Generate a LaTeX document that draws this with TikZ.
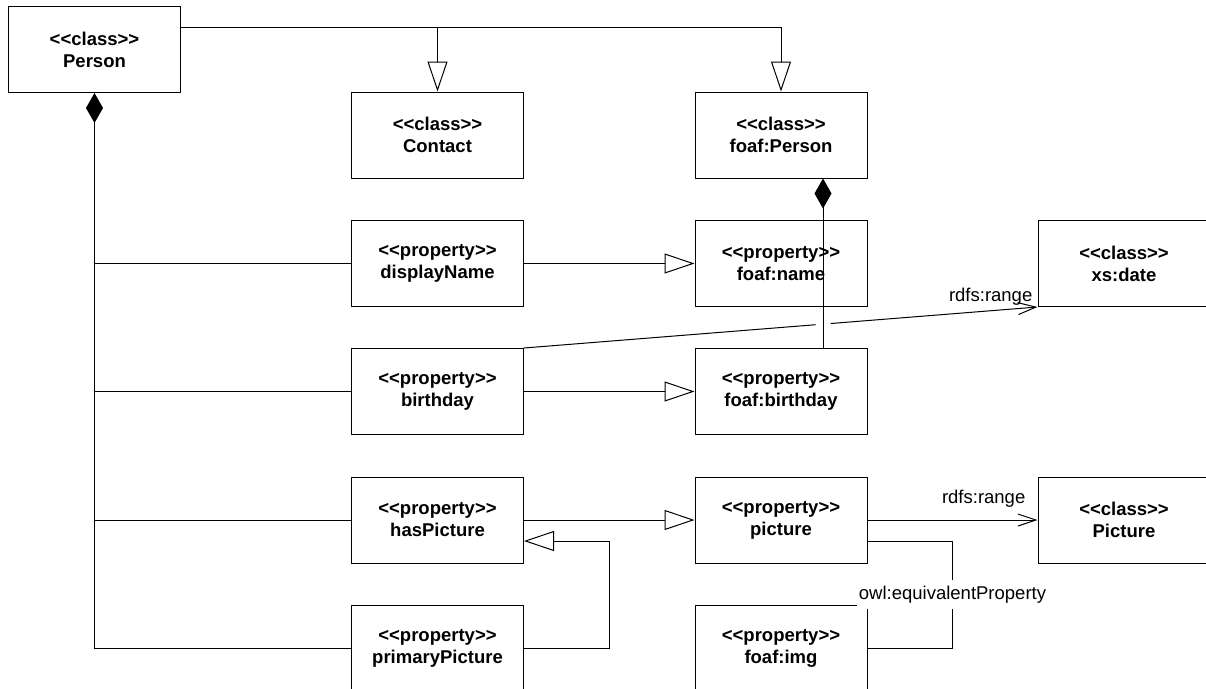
\documentclass[tikz,border=0pt]{standalone}
\usepackage{fontspec}
\setmainfont{Liberation Sans}
\usetikzlibrary{arrows.meta,calc}

% stereotype brackets, kept as two separate characters
\newcommand\stbeg{<\kern0pt<}
\newcommand\stend{>\kern0pt>}

\tikzset{
  umlbox/.style={draw=black, line width=1pt, fill=white, rectangle,
    minimum width=172pt, minimum height=86pt, inner sep=0pt, align=center,
    font=\bfseries\fontsize{18.5}{22}\selectfont},
  wire/.style={draw=black, line width=1pt},
  gen/.style={wire, -{Triangle[open, length=30pt, width=20pt]}},
  comp/.style={wire, {Diamond[length=30pt, width=17pt]}-},
  rangelink/.style={wire, -{Straight Barb[length=18pt, width=12pt]}},
  lbl/.style={font=\fontsize{18.5}{22}\selectfont, inner sep=0pt},
}

\begin{document}
\begin{tikzpicture}[x=1pt, y=-1pt]
\path[use as bounding box] (0,0) rectangle (1206,688);
\clip (0,0) rectangle (1206,688);

% classes and properties
\node[umlbox] (Person)        at (94.5,49.5) {\stbeg class\stend\\Person};
\node[umlbox] (Contact)       at (437.5,135) {\stbeg class\stend\\Contact};
\node[umlbox] (fPerson)       at (781,135)   {\stbeg class\stend\\foaf:Person};
\node[umlbox] (displayName)   at (437.5,263.5) {\stbeg property\stend\\displayName};
\node[umlbox] (fname)         at (781,263.5) {\stbeg property\stend\\foaf:name};
\node[umlbox] (xsdate)        at (1124,263.5) {\stbeg class\stend\\xs:date};
\node[umlbox] (birthday)      at (437.5,391.5) {\stbeg property\stend\\birthday};
\node[umlbox] (fbirthday)     at (781,391.5) {\stbeg property\stend\\foaf:birthday};
\node[umlbox] (hasPicture)    at (437.5,520) {\stbeg property\stend\\hasPicture};
\node[umlbox] (pictureProp)   at (781,520)   {\stbeg property\stend\\picture};
\node[umlbox] (pictureCls)    at (1124,520)  {\stbeg class\stend\\Picture};
\node[umlbox] (primaryPicture) at (437.5,648) {\stbeg property\stend\\primaryPicture};
\node[umlbox] (fimg)          at (781,648)   {\stbeg property\stend\\foaf:img};

% generalisations of Person
\coordinate (g0) at ($(Person.north east)!0.25!(Person.south east)$);
\draw[gen] (g0) -| (Contact.north);
\draw[gen] (g0) -| (fPerson.north);

% composition of Person with its properties
\draw[comp] (Person.south) -- (Person.south |- primaryPicture.west) -- (primaryPicture.west);
\draw[wire] (Person.south |- displayName.west) -- (displayName.west);
\draw[wire] (Person.south |- birthday.west) -- (birthday.west);
\draw[wire] (Person.south |- hasPicture.west) -- (hasPicture.west);

% sub-properties
\draw[gen] (displayName) -- (fname);
\draw[gen] (birthday) -- (fbirthday);
\draw[gen] (hasPicture) -- (pictureProp);
\draw[gen] (primaryPicture.east) -- ++(85,0) |- ($(hasPicture.east)+(0,21)$);

% ranges
\draw[rangelink] (birthday.north east) -- (xsdate.south west);
\node[lbl, anchor=base east] (rangeA) at ($(xsdate.south west)+(-5,-6)$) {rdfs:range};
\draw[white, line width=3pt]
  ($(birthday.north east)!0.568!(xsdate.south west)$) --
  ($(birthday.north east)!0.597!(xsdate.south west)$);
\draw[rangelink] (pictureProp.east) -- (pictureCls.west);
\node[lbl, anchor=base east] (rangeB) at ($(pictureCls.west)+(-12,-17)$) {rdfs:range};

% composition of foaf:Person
\draw[comp] ($(fPerson.south)+(42,0)$) -- ($(fbirthday.north)+(42,0)$);

% equivalent property
\draw[wire] ($(pictureProp.east)+(0,21)$) -- ($(pictureProp.east)+(85,21)$)
  -- node[lbl, fill=white, inner ysep=6pt, inner xsep=2pt] {owl:equivalentProperty}
  ($(fimg.east)+(85,0)$) -- (fimg.east);
\end{tikzpicture}
\end{document}
